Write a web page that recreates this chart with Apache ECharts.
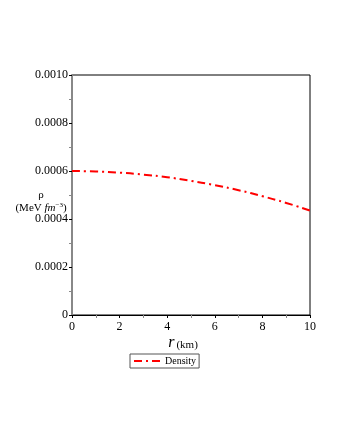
<!DOCTYPE html>
<html><head><meta charset="utf-8">
<script src="https://cdn.jsdelivr.net/npm/echarts@6/dist/echarts.min.js"></script>
<style>html,body{margin:0;padding:0;background:#fff}#c{width:340px;height:440px}</style>
</head><body><div id="c"></div>
<script>
const radius = [0,1,2,3,4,5,6,7,8,9,10];
const density = [0.000600,0.000598,0.000593,0.000585,0.000574,0.000559,0.000541,0.000520,0.000495,0.000467,0.000435];
const seriesName = 'Density';

const chart = echarts.init(document.getElementById('c'), null, {renderer:'canvas'});
const F = 'Liberation Serif, Times New Roman, serif';
chart.setOption({
  animation:false,
  backgroundColor:'#fff',
  grid:{left:72,right:30,top:75,bottom:125,show:true,borderColor:'#000',borderWidth:1,backgroundColor:'transparent'},
  xAxis:{type:'value',min:0,max:10,interval:2,
    axisLine:{lineStyle:{color:'#000'}},
    axisTick:{show:true,length:3,lineStyle:{color:'#000'}},
    minorTick:{show:true,splitNumber:2,length:3,lineStyle:{color:'#888'}},
    splitLine:{show:false},
    axisLabel:{color:'#000',fontFamily:F,fontSize:12,margin:6}},
  yAxis:{type:'value',min:0,max:0.001,interval:0.0002,
    axisLine:{lineStyle:{color:'#888',width:2}},
    axisTick:{show:true,length:3,lineStyle:{color:'#000'}},
    minorTick:{show:true,splitNumber:2,length:3,lineStyle:{color:'#888'}},
    splitLine:{show:false},
    axisLabel:{color:'#000',fontFamily:F,fontSize:12,margin:4,
      formatter:v=> v===0 ? '0' : v.toFixed(4)}},
  legend:{show:true,left:130,top:354,orient:'horizontal',itemWidth:26,itemHeight:10,itemGap:4,padding:[2,3,2,3],
    borderColor:'#555',borderWidth:1,
    itemStyle:{color:'transparent',borderColor:'transparent',borderWidth:0},
    textStyle:{fontFamily:F,fontSize:10,color:'#000'},
    data:[seriesName]},
  graphic:[
    {type:'text',x:41,y:190,style:{text:'ρ',font:'11px '+F,fill:'#000',textAlign:'center'}},
    {type:'text',x:41,y:202,style:{rich:{a:{fontFamily:F,fontSize:11,fill:'#000'},i:{fontFamily:F,fontSize:11,fontStyle:'italic'},s:{fontFamily:F,fontSize:7,verticalAlign:'top',padding:[0,0,5,0]}},
      text:'{a|(MeV }{i|fm}{s|−3}{a|)}',textAlign:'center',fill:'#000'}},
    {type:'text',x:183,y:335,style:{rich:{r:{fontFamily:F,fontSize:16,fontStyle:'italic',fill:'#000'},k:{fontFamily:F,fontSize:11,fill:'#000',padding:[4,0,0,2]}},text:'{r|r}{k|(km)}',textAlign:'center'}}
  ],
  series:[{name:seriesName,type:'line',data:radius.map((r,i)=>[r,density[i]]),
    showSymbol:false,symbol:'none',smooth:true,
    lineStyle:{color:'#ff0000',width:2,type:[8,4,2,4]},itemStyle:{color:'#ff0000'}}]
});
</script></body></html>
